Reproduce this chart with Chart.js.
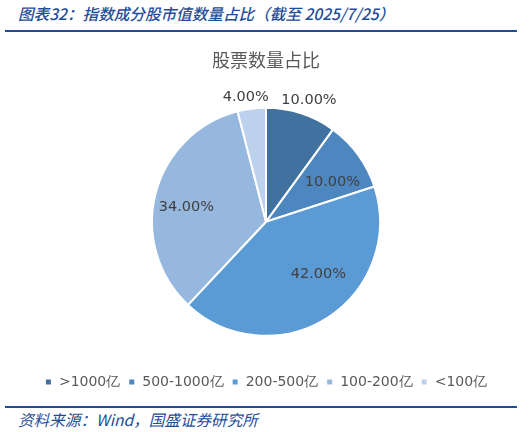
<!DOCTYPE html>
<html>
<head>
<meta charset="utf-8">
<script src="https://cdn.jsdelivr.net/npm/chart.js@4/dist/chart.umd.min.js"></script>
<style>
  html, body { margin: 0; padding: 0; background: #fff; }
  body { width: 532px; height: 432px; position: relative; overflow: hidden; font-family: "Noto Sans CJK SC", sans-serif; }
  .head { position: absolute; left: 18px; top: 2px; font-size: 15.6px; font-style: italic; font-weight: 500; color: #1f4e9a; white-space: nowrap; }
  .rule { position: absolute; left: 5px; width: 512px; height: 2px; background: #1f4e9a; }
  .foot { position: absolute; left: 18px; top: 409px; font-size: 15.6px; font-style: italic; color: #1f4e9a; white-space: nowrap; line-height: 20px; }
  .box { position: absolute; left: 0; top: 38px; width: 532px; height: 362px; }
</style>
</head>
<body>
<div class="head">图表32：指数成分股市值数量占比（截至 2025/7/25）</div>
<div class="rule" style="top:30px"></div>
<div class="box"><canvas id="myChart"></canvas></div>
<div class="rule" style="top:406px"></div>
<div class="foot">资料来源：Wind，国盛证券研究所</div>
<script>
var categories = ['>1000亿', '500-1000亿', '200-500亿', '100-200亿', '<100亿'];
var shares = [10.00, 10.00, 42.00, 34.00, 4.00];
var sliceColors = ['#41729f', '#4e87bf', '#5b9bd5', '#97b8de', '#bcd1ec'];

// where each % label sits: fraction of radius, and angle nudge in degrees
var labelSpots = [[1.13, 1.5], [0.68, 5], [0.65, -12.6], [0.71, -3.8], [1.11, -2]];

var pctLabels = {
    id: 'pctLabels',
    afterDatasetsDraw: function (chart) {
        var ctx = chart.ctx;
        var arcs = chart.getDatasetMeta(0).data;
        ctx.save();
        ctx.font = '14.5px "DejaVu Sans"';
        ctx.fillStyle = '#404040';
        ctx.textAlign = 'center';
        ctx.textBaseline = 'middle';
        arcs.forEach(function (arc, i) {
            var p = arc.getProps(['x', 'y', 'startAngle', 'endAngle', 'outerRadius'], true);
            var mid = (p.startAngle + p.endAngle) / 2 + labelSpots[i][1] * Math.PI / 180;
            var r = p.outerRadius * labelSpots[i][0];
            ctx.fillText(shares[i].toFixed(2) + '%', p.x + Math.cos(mid) * r, p.y + Math.sin(mid) * r);
        });
        ctx.restore();
    }
};

new Chart(document.getElementById('myChart').getContext('2d'), {
    type: 'pie',
    data: {
        labels: categories,
        datasets: [{
            data: shares,
            backgroundColor: sliceColors,
            borderColor: '#ffffff',
            borderWidth: 2
        }]
    },
    options: {
        responsive: true,
        maintainAspectRatio: false,
        animation: false,
        radius: 114,
        layout: { padding: { bottom: 1 } },
        plugins: {
            title: {
                display: true,
                text: '股票数量占比',
                color: '#595959',
                font: { family: '"Noto Sans CJK SC"', size: 18, weight: 'normal' },
                padding: { top: 11, bottom: 6 }
            },
            legend: {
                position: 'bottom',
                labels: {
                    color: '#595959',
                    font: { family: '"DejaVu Sans"', size: 14 },
                    boxWidth: 7,
                    boxHeight: 7,
                    padding: 8
                }
            },
            tooltip: { enabled: false }
        }
    },
    plugins: [pctLabels]
});
</script>
</body>
</html>
